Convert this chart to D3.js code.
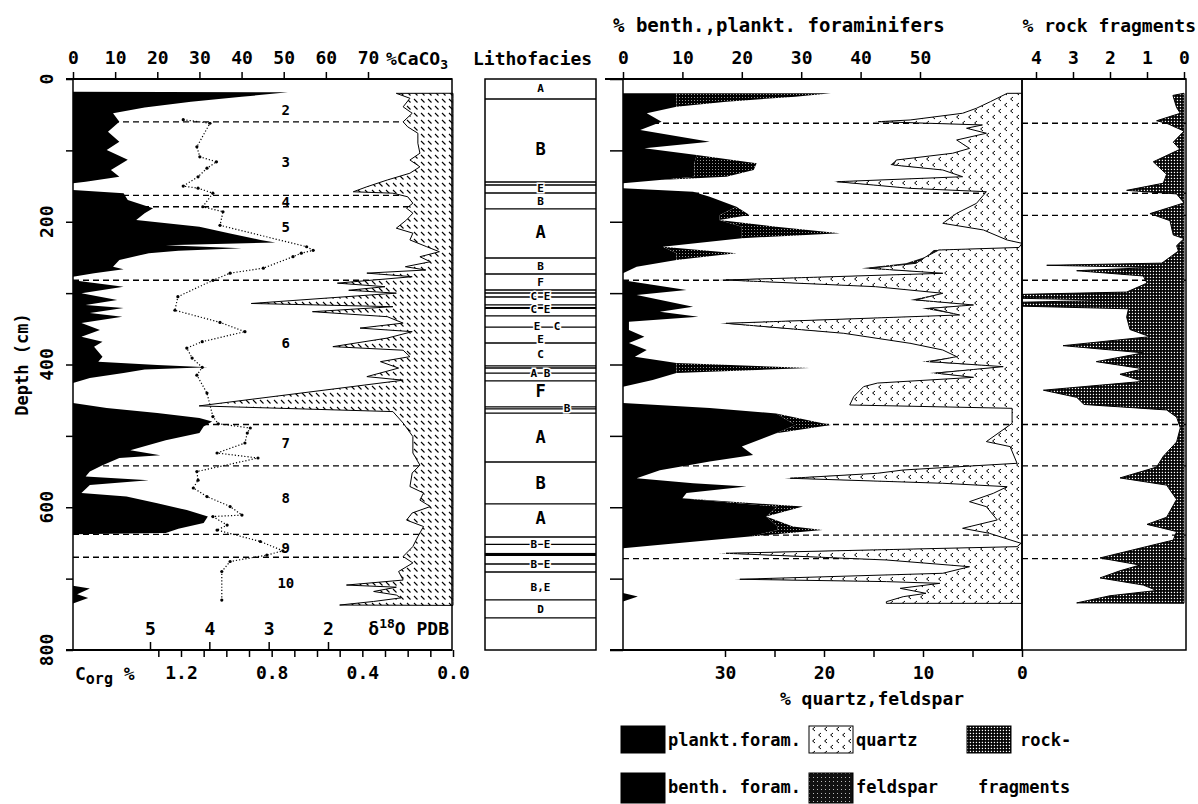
<!DOCTYPE html>
<html>
<head>
  <meta charset="utf-8">
  <title>Core log</title>
  <script src="https://d3js.org/d3.v7.min.js"></script>
  <style>
    body { margin: 0; background: #fff; }
    svg text { font-family: "DejaVu Sans Mono", monospace; font-weight: bold; fill: #000; }
    .frame { fill: none; stroke: #000; stroke-width: 1.5px; }
    .rule { stroke: #000; stroke-width: 2px; }
    .stage { stroke: #000; stroke-width: 1.4px; stroke-dasharray: 6,4; }
    .o18 { fill: none; stroke: #000; stroke-width: 1.2px; stroke-dasharray: 1.2,2; }
  </style>
</head>
<body>
<svg width="1198" height="804"></svg>
<script>
// ---- data (depth in cm) ----
const caco3 = [[18,0],[18.5,51],[25,40],[32,28],[40,17],[48,9.5],[60,11],[74,8.3],[88,11],[99.5,8],[113,13],[127.5,9],[137,11],[144,3],[146,0],[155.5,0],[160,12],[169.5,13],[181,19],[188,17],[197.5,15],[207,30],[216,37],[225.5,44.5],[229,48],[233,22],[237,40],[240.5,25],[244,18],[253.6,11],[263,9.5],[266.6,12],[272,5],[277,0],[282,0],[291,12],[300,2],[309.6,10.5],[316.6,3],[321,12],[328,4],[333,11.7],[342,2],[351.7,6.4],[361,2],[368,7],[375,5],[389,7],[396,6],[400.6,20],[404,32],[407,17],[412,12],[419,4],[426,0],[454,0],[461,8],[468,20],[475,30],[480,33],[487,31],[496,30],[506,22],[520,13.6],[527,20.7],[531,11],[541,7],[550,4],[557,3],[562,18],[569,4],[580,2],[585,12.7],[594.5,20],[604,27],[613,32],[622,31],[630,25],[636,22],[638,0],[710,0],[714,4],[722,1],[727,3.6],[735,0]];

const corg = [[20,0],[20.1,0.25],[27,0.19],[39,0.22],[48,0.18],[60,0.22],[67,0.2],[76,0.155],[90,0.155],[104,0.146],[113.5,0.19],[123,0.146],[132,0.19],[141.5,0.29],[151,0.38],[158,0.44],[160,0.265],[165,0.2],[174,0.177],[181,0.205],[188,0.177],[197.5,0.205],[209,0.25],[216,0.177],[225.5,0.19],[235,0.116],[242,0.06],[249,0.146],[256,0.1],[263,0.21],[267.6,0.12],[272,0.38],[277,0.18],[286,0.51],[291,0.3],[296,0.46],[300,0.25],[314.5,0.89],[319,0.265],[326,0.62],[333,0.29],[342,0.22],[349,0.41],[354,0.18],[363,0.29],[375,0.53],[380,0.22],[389,0.19],[396,0.32],[405,0.24],[417,0.38],[422,0.22],[458,1.12],[466,0.265],[482,0.22],[501,0.177],[524,0.177],[541,0.146],[552,0.18],[571,0.19],[580,0.13],[590,0.146],[599,0.1],[608,0.18],[618,0.205],[627,0.13],[641,0.155],[655,0.177],[669,0.22],[678,0.177],[690,0.24],[702,0.22],[709,0.47],[712,0.25],[718,0.35],[723,0.25],[727,0.23],[732,0.35],[737,0.5],[737.5,0]];

const o18 = [[57,4.44],[62,3.99],[95,4.21],[109,4.16],[116,3.88],[125,4.04],[137,4.19],[150,4.44],[153,4.19],[160,3.94],[179,4.11],[186,3.77],[205,3.82],[235,2.36],[240,2.25],[244,2.45],[249,2.59],[265,3.09],[272,3.65],[282,3.94],[305,4.53],[324,4.58],[341,3.82],[354,3.4],[368,4.12],[377,4.38],[391,4.29],[404,4.12],[415,4.21],[440,4.04],[473,3.94],[483,3.85],[489,3.31],[496,3.36],[510,3.4],[524,3.87],[531,3.18],[550,4.21],[562,4.19],[573,4.27],[585,4.04],[599,3.65],[611,3.45],[613,3.94],[625,3.7],[632,3.87],[648,3.14],[661,2.76],[667,3.03],[676,3.65],[690,3.79],[730,3.79]];

// depth, plankt., benth.
const forams = [[20,0,0],[20.1,9,26],[24.8,9,20],[31.8,9,8.4],[38.8,9,0],[48,4,0],[60,6.5,0],[71.5,2.9,0],[88,14.6,0],[97,3.6,0],[106.5,12.4,0],[118,12,10.5],[127.5,12,10],[137,12,5.4],[141.5,6.2,0],[146,0,0],[153,0,0],[158,11.8,0],[165,14.6,0],[179,19.1,0],[190.5,16.3,5],[197.5,16.2,0],[207,20,5.8],[216,20,16.5],[223,20,0],[235,6.7,0],[244,9,10.1],[253.6,9,0],[263,2.3,0],[272,0,0],[282,0,0],[295.6,10.7,0],[302.6,2.3,0],[319,11.8,0],[326,6.2,0],[333,12.7,0],[340,1,0],[351.7,1,0],[361,3.6,0],[370,1,0],[379.7,4,0],[389,2,0],[398,9,0],[405,9,22.4],[412,9,0],[421.7,5,0],[431,0,0],[454,0,0],[461,14.6,0],[468.5,25.8,0],[484.7,29,6],[496.4,25.8,0],[515,20,0],[526.8,21.9,0],[536,14.6,0],[548,6.2,0],[559.5,2.3,0],[566.5,11.8,0],[571,20.8,0],[580,10.7,0],[587.5,10,0],[599,26,4.3],[613,24.1,0],[627,26,2.6],[632,26,7.6],[641,21.3,0],[650.5,9,0],[657.5,0,0],[720,0,0],[725,2.5,0],[732,0,0]];

// depth, quartz, feldspar
const quartz = [[20,0,0],[20.1,1.5,0],[31.8,3.2,0],[41,4.6,0],[48,6,0],[57.4,11.3,0],[59.8,14.5,0.4],[64.4,4,0],[69,5.6,0],[76,3.6,0],[85.5,6.6,0],[97.2,5.3,0],[104,7,0],[113.5,12.7,0],[120.5,13,0.3],[127.5,8,0],[136.9,6,0],[143.9,18.7,0.3],[153.2,11.3,0],[157.9,3.6,0],[174.2,4.6,0],[188.2,6.6,0],[202.2,8,0],[211.5,3.9,0],[225.6,1.5,0],[230.2,0,0],[236,0.3,0],[239.6,8.4,0.5],[249,9.7,0],[258.2,10.7,1],[265.2,15.4,0.8],[272.2,8,0],[281.6,29.9,0.8],[291,14.8,0],[300.2,8,0],[309.6,10.7,0.6],[316.6,4.9,0],[321.3,9.3,0.8],[330.6,6.3,0],[342.3,29.9,0.6],[356.3,18,0],[370.3,11.3,0],[379.7,8,0],[389,6.6,0],[396,9.3,0.8],[403,1.9,0],[412,8.7,0.6],[418,4.9,0],[426,14.6,0],[431,16,0],[445,17,0],[456.7,17.4,0],[461.4,1,0],[482.4,1,0],[508,3.6,0],[515,1.2,0],[538.4,0.5,0],[547.8,12,0],[552.4,14.6,0],[559.4,23.4,0.6],[566.4,8,0],[571.2,1.5,0],[580.5,2.9,0],[592.2,5.3,0],[599.2,3.6,0],[617.8,2.5,0],[629.5,6,0],[636.5,3.3,0],[650.5,0.1,0],[655.2,0.5,0],[664.5,29.9,0.8],[673.9,13.7,0],[683.3,5.3,0],[692.5,8,0],[700.9,28.5,0.6],[704.2,13.7,0],[706.6,8.3,0],[713.6,12.3,0],[720.6,9.7,0],[725.3,12,0],[732.3,13.7,0],[734.6,13.7,0],[734.7,0,0]];

const rock = [[20,0],[23,0.3],[40,0.2],[48,0.1],[58.5,0.74],[62,0.47],[73,0],[88.5,0.29],[98.5,0.11],[116,0.83],[133.5,0.47],[146,0.56],[156,1.55],[161,0.2],[173.6,0],[188.6,0.92],[198.5,0.38],[218.5,0.29],[223.6,0],[233.5,0.2],[241,0.15],[258,0.6],[261,3.71],[264,0.8],[268.6,2.9],[276,1.1],[286,1.0],[298.5,1.55],[302,4.6],[307,4.6],[310,2.0],[313,4.6],[318,4.6],[322,1.5],[333.5,1.55],[351,1.46],[361,0.92],[373.6,3.27],[383.7,1.1],[396,2.37],[406,1.1],[413.7,1.73],[423.6,1.1],[436,3.8],[446,2.9],[456,2.7],[463.7,0.47],[473.6,0.2],[488.8,0.1],[508.6,0.2],[528.7,0.56],[543.7,0.74],[558.9,1.73],[569,0.47],[589,0.2],[614,0.47],[624,1.0],[634,0.2],[646,0.29],[671,2.27],[681,1.19],[689,1.73],[699,2.27],[709,1.1],[716.6,0.74],[724,2.0],[734,2.9],[734.5,0]];

const stageDepthsLeft = [60, 163, 179, 282, 484, 542, 638, 670];
const stageDepths = [62, 160, 191, 282, 484, 542, 639, 672];
const stageNames = ["2", "3", "4", "5", "6", "7", "8", "9", "10"];
const stageLabelDepths = [43, 116, 172, 207, 370, 510, 587, 657, 706];

const lithoBounds = [28, 144.3, 148.5, 159.7, 182, 250.8, 273.2, 295.6, 299.8, 305.4, 316.6, 332, 347.6, 369.9, 402, 404.9, 412, 423, 459.5, 462.3, 468, 536.6, 595.4, 641.7, 652, 679.5, 690.7, 729.9, 755];
const lithoDark = [[319.4, 322.2], [664, 668.3]];
const lithoNames = ["A", "B", "E", "B", "A", "B", "F", "C E", "C E", "  E  C", "E", "C", "A B", "F", "        B", "A", "B", "A", "B E", "B E", "B,E", "D"];
const lithoDepths = [12.6, 98, 153, 171, 214, 262, 284, 304.5, 322.5, 346, 364, 385, 412, 437, 461, 501.6, 566, 615, 652, 680, 712, 742.5];

const caTicks = [0, 10, 20, 30, 40, 50, 60, 70];
const foramTicks = [0, 10, 20, 30, 40, 50];
const rockTicks = [4, 3, 2, 1, 0];
const o18Ticks = [5, 4, 3, 2];
const corgTicks = d3.range(0, 14).map(i => i / 10);
const corgLabels = [0, 0.4, 0.8, 1.2];
const quartzTicks = [30, 25, 20, 15, 10, 5, 0];
const quartzLabels = [30, 20, 10, 0];
const depthTicks = d3.range(0, 801, 100);
const depthLabels = [0, 200, 400, 600, 800];

// ---- scales ----
const y = d3.scaleLinear().domain([0, 800]).range([79, 650]);
const xCa = d3.scaleLinear().domain([0, 70]).range([73, 368]);
const xCorg = d3.scaleLinear().domain([0, 1.2]).range([453, 181]);
const xO18 = d3.scaleLinear().domain([5, 2]).range([150, 328]);
const xFor = d3.scaleLinear().domain([0, 50]).range([623, 920]);
const xQz = d3.scaleLinear().domain([0, 30]).range([1022, 725]);
const xRock = d3.scaleLinear().domain([0, 4]).range([1184, 1036]);

const left = {x0: 73, x1: 452}, litho = {x0: 485, x1: 596}, mid = {x0: 623, x1: 1022}, rk = {x0: 1022, x1: 1186};
const yTop = y(0), yBot = y(800);

const svg = d3.select("svg");
const defs = svg.append("defs");

function pattern(id, w, h, bg) {
  const p = defs.append("pattern").attr("id", id)
    .attr("patternUnits", "userSpaceOnUse").attr("width", w).attr("height", h);
  p.append("rect").attr("width", w).attr("height", h).attr("fill", bg);
  return p;
}
pattern("hatch", 7, 7, "#fff").append("path").attr("d", "M1,1L4.5,4.5")
  .attr("stroke", "#000").attr("stroke-width", 1.1);
pattern("qz", 12, 12, "#fff").append("path").attr("d", "M5,1L2.6,3L5,5M11,7L8.6,9L11,11")
  .attr("fill", "none").attr("stroke", "#000").attr("stroke-width", 1);
const st = pattern("stip", 4, 4, "#111");
st.append("rect").attr("x", 1).attr("y", 1).attr("width", 1).attr("height", 1).attr("fill", "#bbb");
const bn = pattern("benth", 3, 3, "#000");
bn.append("rect").attr("x", 1).attr("y", 1).attr("width", 1).attr("height", 1).attr("fill", "#999");
const rp = pattern("rockp", 3, 3, "#000");
rp.append("rect").attr("x", 0.8).attr("y", 0.8).attr("width", 1.3).attr("height", 1.3).attr("fill", "#fff");

defs.append("clipPath").attr("id", "rclip").append("rect")
  .attr("x", rk.x0).attr("y", yTop).attr("width", rk.x1 - rk.x0).attr("height", yBot - yTop);

function styleAxis(g, size) {
  g.attr("font-family", null).attr("font-size", null);
  g.select(".domain").remove();
  g.selectAll(".tick line").attr("stroke", "#000").attr("stroke-width", 1.5);
  g.selectAll(".tick text").style("font-size", size + "px");
}

function stageLines(g, depths, x0, x1) {
  g.selectAll(null).data(depths).join("line").attr("class", "stage")
    .attr("x1", x0).attr("x2", x1).attr("y1", d => y(d)).attr("y2", d => y(d));
}

// ---- lithofacies column ----
const gl = svg.append("g");
gl.selectAll(null).data(lithoBounds).join("line")
  .attr("x1", litho.x0).attr("x2", litho.x1).attr("y1", d => y(d)).attr("y2", d => y(d))
  .attr("stroke", "#000").attr("stroke-width", 1.3);
gl.selectAll(null).data(lithoDark).join("rect")
  .attr("x", litho.x0).attr("width", litho.x1 - litho.x0)
  .attr("y", d => y(d[0])).attr("height", d => y(d[1]) - y(d[0])).attr("fill", "#000");
const allB = [0].concat(lithoBounds, [800]);
gl.selectAll(null).data(lithoNames).join("text")
  .attr("x", (litho.x0 + litho.x1) / 2).attr("y", (d, i) => y(lithoDepths[i]))
  .attr("text-anchor", "middle").attr("dy", "0.36em")
  .style("white-space", "pre")
  .style("font-size", (d, i) => {
    const dd = lithoDepths[i];
    const lo = d3.max(allB.filter(b => b <= dd)), hi = d3.min(allB.filter(b => b > dd));
    return (d.trim().length === 1 && hi - lo > 34) ? "17px" : "11px";
  })
  .attr("stroke", "#fff").attr("stroke-width", 3).attr("paint-order", "stroke")
  .text(d => d);
gl.append("rect").attr("class", "frame").attr("x", litho.x0).attr("y", yTop)
  .attr("width", litho.x1 - litho.x0).attr("height", yBot - yTop);

// ---- left panel: CaCO3, Corg, d18O ----
const g1 = svg.append("g");
stageLines(g1, stageDepthsLeft, left.x0, left.x1);
g1.append("path").datum(caco3).attr("fill", "#000")
  .attr("d", d3.area().y(d => y(d[0])).x0(xCa(0)).x1(d => xCa(d[1])));
g1.append("path").datum(corg).attr("fill", "url(#hatch)").attr("stroke", "#000").attr("stroke-width", 1)
  .attr("d", d3.area().y(d => y(d[0])).x0(xCorg(0)).x1(d => xCorg(d[1])));
g1.append("path").datum(o18).attr("class", "o18")
  .attr("d", d3.line().y(d => y(d[0])).x(d => xO18(d[1])));
g1.selectAll(null).data(o18).join("circle")
  .attr("cx", d => xO18(d[1])).attr("cy", d => y(d[0])).attr("r", 1.6).attr("fill", "#000");
g1.selectAll(null).data(stageNames).join("text")
  .attr("x", xCa(50.5)).attr("y", (d, i) => y(stageLabelDepths[i])).attr("dy", "0.36em")
  .attr("text-anchor", "middle").style("font-size", "14px").text(d => d);
g1.append("rect").attr("class", "frame").attr("x", left.x0).attr("y", yTop)
  .attr("width", left.x1 - left.x0).attr("height", yBot - yTop);
g1.append("line").attr("class", "rule").attr("x1", 66).attr("x2", left.x1).attr("y1", yTop).attr("y2", yTop);
g1.append("line").attr("class", "rule").attr("x1", 66).attr("x2", left.x1).attr("y1", yBot).attr("y2", yBot);

svg.append("g").attr("transform", `translate(0,${yTop})`)
  .call(d3.axisTop(xCa).tickValues(caTicks).tickSize(7).tickPadding(8))
  .call(g => styleAxis(g, 18));
svg.append("g").attr("transform", `translate(0,${yBot})`)
  .call(d3.axisBottom(xCorg).tickValues(corgTicks).tickSize(7).tickPadding(9)
    .tickFormat(d => corgLabels.some(v => Math.abs(v - d) < 1e-6) ? d3.format(".1f")(d) : ""))
  .call(g => styleAxis(g, 18));
svg.append("g").attr("transform", `translate(0,${yBot})`)
  .call(d3.axisTop(xO18).tickValues(o18Ticks).tickSize(8).tickPadding(7).tickFormat(d3.format("d")))
  .call(g => styleAxis(g, 18));
svg.append("g").attr("transform", `translate(${left.x0},0)`)
  .call(d3.axisLeft(y).tickValues(depthTicks).tickSize(7).tickFormat(""))
  .call(g => styleAxis(g, 18));
svg.append("g").selectAll("text").data(depthLabels).join("text")
  .attr("transform", d => `translate(47,${y(d)}) rotate(-90)`)
  .attr("text-anchor", "middle").attr("dy", "0.36em").style("font-size", "18px").text(d => d);
svg.append("text").attr("transform", `translate(22,${y(400)}) rotate(-90)`)
  .attr("text-anchor", "middle").attr("dy", "0.36em").style("font-size", "17px").text("Depth (cm)");

const caLab = svg.append("text").attr("x", 386).attr("y", 65).style("font-size", "18px");
caLab.append("tspan").text("%CaCO");
caLab.append("tspan").attr("dy", 4).style("font-size", "13px").text("3");
svg.append("text").attr("x", 473).attr("y", 65).style("font-size", "18px").text("Lithofacies");

const dLab = svg.append("text").attr("x", 449).attr("y", 635).attr("text-anchor", "end").style("font-size", "18px");
dLab.append("tspan").text("\u03b4");
dLab.append("tspan").attr("dy", -7).style("font-size", "13px").text("18");
dLab.append("tspan").attr("dy", 7).text("O PDB");

const cLab = svg.append("text").attr("x", 75).attr("y", 680).style("font-size", "18px");
cLab.append("tspan").text("C");
cLab.append("tspan").attr("dy", 4).style("font-size", "15px").text("org");
cLab.append("tspan").attr("dy", -4).text(" %");

// ---- middle panel: foraminifers, quartz, feldspar ----
const g2 = svg.append("g");
stageLines(g2, stageDepths, mid.x0, mid.x1);
g2.append("path").datum(forams).attr("fill", "#000")
  .attr("d", d3.area().y(d => y(d[0])).x0(xFor(0)).x1(d => xFor(d[1])));
g2.append("path").datum(forams).attr("fill", "url(#benth)")
  .attr("d", d3.area().y(d => y(d[0])).x0(d => xFor(d[1])).x1(d => xFor(d[1] + d[2])));
g2.append("path").datum(quartz).attr("fill", "url(#qz)").attr("stroke", "#000").attr("stroke-width", 1)
  .attr("d", d3.area().y(d => y(d[0])).x0(xQz(0)).x1(d => xQz(d[1])));
g2.append("path").datum(quartz).attr("fill", "url(#stip)")
  .attr("d", d3.area().y(d => y(d[0])).x0(d => xQz(d[1])).x1(d => xQz(d[1] + d[2])));
g2.append("rect").attr("class", "frame").attr("x", mid.x0).attr("y", yTop)
  .attr("width", mid.x1 - mid.x0).attr("height", yBot - yTop);
g2.append("line").attr("class", "rule").attr("x1", 605).attr("x2", rk.x1).attr("y1", yTop).attr("y2", yTop);
g2.append("line").attr("class", "rule").attr("x1", 610).attr("x2", mid.x1).attr("y1", yBot).attr("y2", yBot);

svg.append("g").attr("transform", `translate(0,${yTop})`)
  .call(d3.axisTop(xFor).tickValues(foramTicks).tickSize(7).tickPadding(8))
  .call(g => styleAxis(g, 18));
svg.append("g").attr("transform", `translate(0,${yBot})`)
  .call(d3.axisBottom(xQz).tickValues(quartzTicks).tickSize(7).tickPadding(9)
    .tickFormat(d => quartzLabels.includes(d) ? d : ""))
  .call(g => styleAxis(g, 18));
svg.append("g").attr("transform", `translate(${mid.x0},0)`)
  .call(d3.axisLeft(y).tickValues(depthTicks).tickSize(13).tickFormat(""))
  .call(g => styleAxis(g, 18));
svg.append("text").attr("x", 872).attr("y", 705).attr("text-anchor", "middle")
  .style("font-size", "18px").text("% quartz,feldspar");
svg.append("text").attr("x", 613).attr("y", 32).style("font-size", "19px").text("% benth.,plankt. foraminifers");

// ---- rock fragments panel ----
const g3 = svg.append("g");
stageLines(g3, stageDepths, rk.x0, rk.x1);
g3.append("path").datum(rock).attr("clip-path", "url(#rclip)")
  .attr("fill", "url(#rockp)").attr("stroke", "#000").attr("stroke-width", 1)
  .attr("d", d3.area().y(d => y(d[0])).x0(xRock(0)).x1(d => xRock(d[1])));
g3.append("rect").attr("class", "frame").attr("x", rk.x0).attr("y", yTop)
  .attr("width", rk.x1 - rk.x0).attr("height", yBot - yTop);
svg.append("g").attr("transform", `translate(0,${yTop})`)
  .call(d3.axisTop(xRock).tickValues(rockTicks).tickSize(7).tickPadding(8).tickFormat(d3.format("d")))
  .call(g => styleAxis(g, 18));
svg.append("text").attr("x", 1196).attr("y", 32).attr("text-anchor", "end")
  .style("font-size", "18px").text("% rock fragments");

// ---- legend ----
const legendItems = [
  {fill: "#000", label: "plankt.foram.", col: 0, row: 0},
  {fill: "url(#qz)", label: "quartz", col: 1, row: 0},
  {fill: "url(#rockp)", label: "rock-", col: 2, row: 0},
  {fill: "#000", label: "benth. foram.", col: 0, row: 1},
  {fill: "url(#stip)", label: "feldspar", col: 1, row: 1}
];
const colX = [621, 809, 967], rowY = [726, 773];
const lg = svg.append("g");
lg.selectAll("rect").data(legendItems).join("rect")
  .attr("x", d => colX[d.col]).attr("y", d => rowY[d.row])
  .attr("width", 44).attr("height", d => d.row ? 30 : 27)
  .attr("fill", d => d.fill).attr("stroke", "#000").attr("stroke-width", 1);
lg.selectAll("text").data(legendItems).join("text")
  .attr("x", d => colX[d.col] + 47 + (d.col === 2 ? 6 : 0)).attr("y", d => rowY[d.row] + 20)
  .style("font-size", "17px").text(d => d.label);
lg.append("text").attr("x", 978).attr("y", rowY[1] + 20).style("font-size", "17px").text("fragments");
</script>
</body>
</html>
